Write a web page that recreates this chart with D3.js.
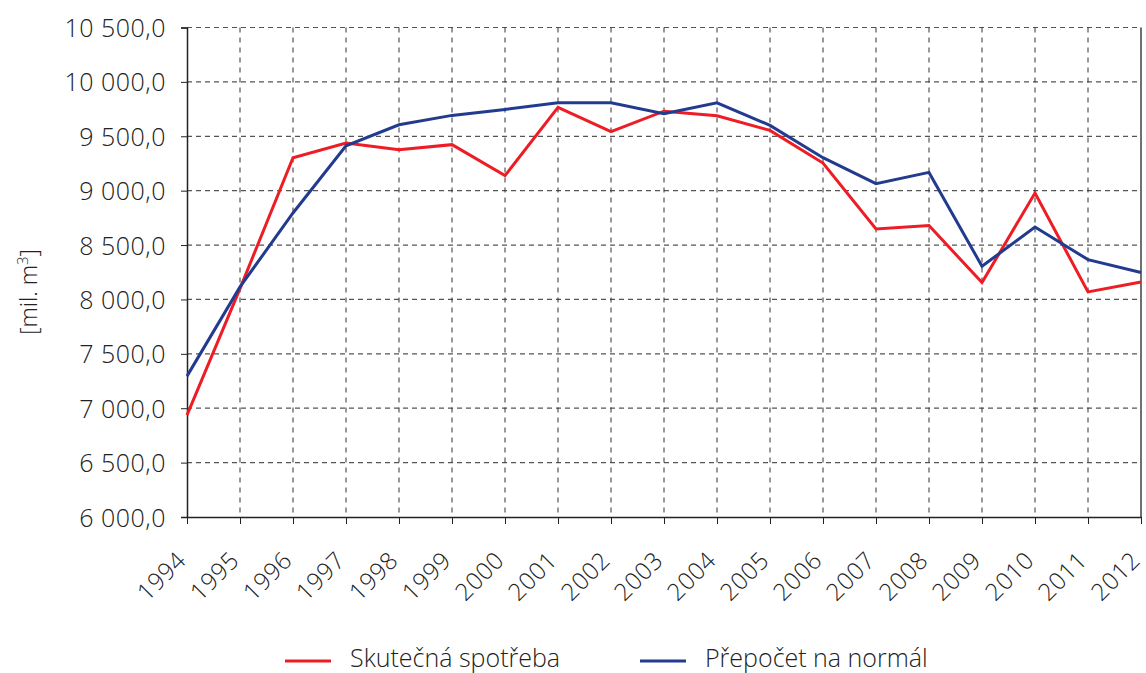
<!DOCTYPE html>
<html><head><meta charset="utf-8">
<script src="https://cdn.jsdelivr.net/npm/d3@7"></script>
<style>
body{margin:0;background:#fff;}
text{font-family:"Open Sans",sans-serif;font-weight:300;fill:#222;}
</style></head>
<body><svg id="c" width="1146" height="673"></svg>
<script>
const years = ["1994","1995","1996","1997","1998","1999","2000","2001","2002","2003","2004","2005","2006","2007","2008","2009","2010","2011","2012"];
const skutecna = [6937,8100,9303,9437,9377,9423,9138,9765,9542,9731,9689,9554,9254,8648,8679,8155,8978,8069,8161];
const prepocet = [7295,8115,8795,9413,9606,9692,9747,9808,9808,9707,9808,9600,9303,9064,9168,8305,8666,8366,8247];
const yTicks = [6000,6500,7000,7500,8000,8500,9000,9500,10000,10500];
const seriesNames = ["Skutečná spotřeba","Přepočet na normál"];
const seriesColors = ["#ee1c25","#233b8f"];

const svg = d3.select("#c");
const L=187,R=1141,T=27.5,B=517;
const x = d3.scalePoint().domain(years).range([L,R]);
const y = d3.scaleLinear().domain([6000,10500]).range([B,T]);
const fmt = v => { const s = String(v); const i = s.length>3 ? s.slice(0,s.length-3)+" "+s.slice(-3) : s; return i+",0"; };

// grid
const g = svg.append("g");
g.selectAll(".hg").data(yTicks.filter(v=>v>6000)).join("line")
  .attr("x1",L).attr("x2",R).attr("y1",d=>y(d)).attr("y2",d=>y(d))
  .attr("stroke","#555").attr("stroke-width",1.2).attr("stroke-dasharray","5,4");
g.selectAll(".vg").data(years.slice(1,-1)).join("line")
  .attr("x1",d=>x(d)).attr("x2",d=>x(d)).attr("y1",T).attr("y2",B)
  .attr("stroke","#333").attr("stroke-width",1).attr("stroke-dasharray","5,5");
// right border
svg.append("line").attr("x1",R).attr("x2",R).attr("y1",T).attr("y2",B).attr("stroke","#222").attr("stroke-width",1.3);

// y axis
const ya = svg.append("g").attr("transform",`translate(${L},0)`)
  .call(d3.axisLeft(y).tickValues(yTicks).tickFormat(fmt).tickSize(6).tickPadding(15));
ya.select(".domain").attr("stroke","#222").attr("stroke-width",1.5);
ya.selectAll(".tick line").attr("stroke","#222");
ya.selectAll("text").style("font-size","25px").style("letter-spacing","0.5px").attr("fill","#222").attr("font-family",null).attr("dy","0.36em");

// x axis
const xa = svg.append("g").attr("transform",`translate(0,${B})`)
  .call(d3.axisBottom(x).tickSize(7).tickSizeOuter(0));
xa.select(".domain").attr("stroke","#222").attr("stroke-width",1.5);
xa.selectAll(".tick line").attr("stroke","#222");
xa.selectAll("text").style("font-size","24px").style("letter-spacing","0.5px").attr("fill","#222").attr("font-family",null)
  .attr("text-anchor","end").attr("dy",null).attr("y",0)
  .attr("transform","translate(0,45) rotate(-45)");

// lines
const line = d3.line().x((d,i)=>x(years[i])).y(d=>y(d));
[skutecna,prepocet].forEach((s,k)=>{
  svg.append("path").datum(s).attr("d",line).attr("fill","none")
    .attr("stroke",seriesColors[k]).attr("stroke-width",3).attr("stroke-linejoin","miter");
});

// y title
const yt = svg.append("text").attr("transform","translate(37,292) rotate(-90)")
  .attr("text-anchor","middle").style("font-size","23px");
yt.append("tspan").text("[mil. m");
yt.append("tspan").attr("dy",-9).style("font-size","15px").text("3");
yt.append("tspan").attr("dy",9).text("]");

// legend
const lx=[285,640];
seriesNames.forEach((n,k)=>{
  svg.append("line").attr("x1",lx[k]).attr("x2",lx[k]+46).attr("y1",661).attr("y2",661)
    .attr("stroke",seriesColors[k]).attr("stroke-width",3);
  svg.append("text").attr("x",lx[k]+65).attr("y",667).style("font-size","25px").text(n);
});
</script></body></html>
